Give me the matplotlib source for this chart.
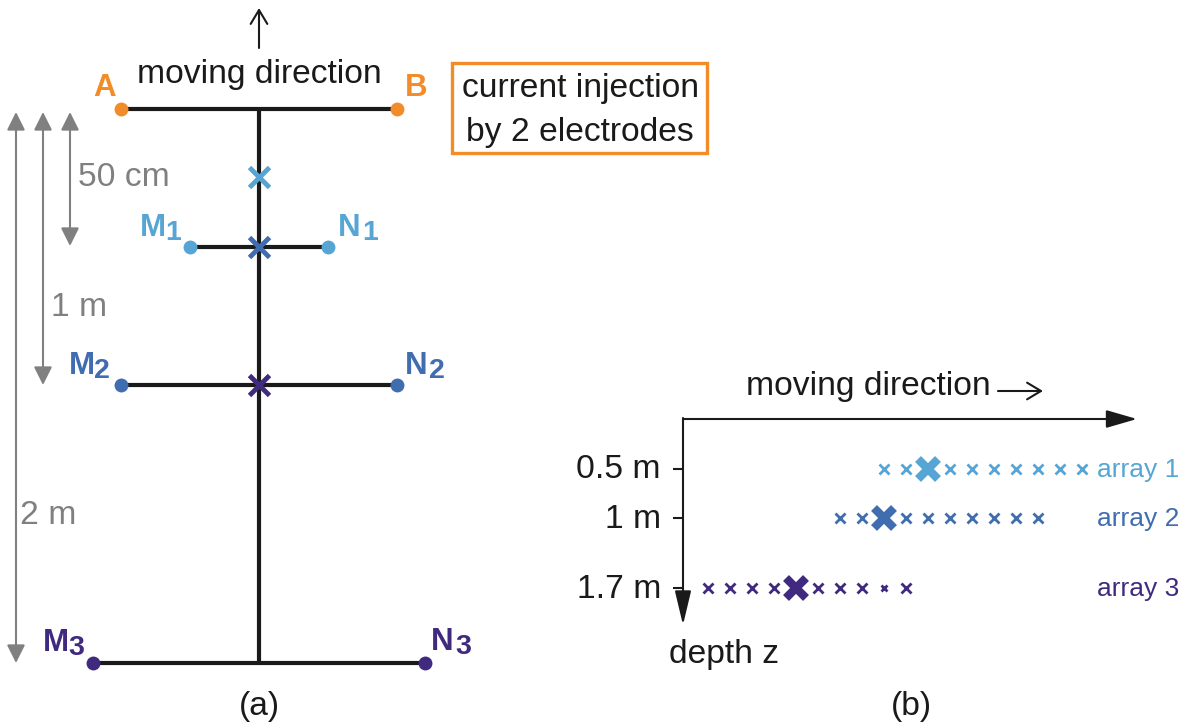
import matplotlib
matplotlib.use("Agg")
import matplotlib.pyplot as plt
from matplotlib.patches import Rectangle, FancyArrowPatch

plt.rcParams['font.family'] = ['Liberation Sans', 'DejaVu Sans']

ORANGE = '#F28C28'
LIGHT = '#56A5D5'
MID = '#3F6DB0'
DARK = '#3F2A80'
GREY = '#808080'
BLACK = '#1A1A1A'

# Panel (a): electrode bars
center_x = 259
bar_names = ['AB', 'M1N1', 'M2N2', 'M3N3']
bar_y = [109, 247, 385, 663]
bar_left = [121, 190, 121, 93]
bar_right = [397, 328, 397, 425]
bar_colors = [ORANGE, LIGHT, MID, DARK]

cross_y = [177, 247, 385]
cross_colors = [LIGHT, MID, DARK]

# Panel (a): dimension arrows
dim_x = [70, 43, 16]
dim_bottom = [246, 385, 663]
dim_top = 112
dim_labels = ['50 cm', '1 m', '2 m']
dim_label_pos = [(78, 177), (51, 307), (20, 516)]

# Panel (b): measurement positions for each array
array_names = ['array 1', 'array 2', 'array 3']
array_depth_labels = ['0.5 m', '1 m', '1.7 m']
array_y = [469, 518, 588]
array_colors = [LIGHT, MID, DARK]
array_x = [
    [884, 906, 950, 972, 994, 1016, 1038, 1060, 1082],
    [840, 862, 906, 928, 950, 972, 994, 1016, 1038],
    [708, 730, 752, 774, 818, 840, 862, 906],
]
array_small_x = [[], [], [884]]
array_big_x = [928, 884, 796]

fig = plt.figure(figsize=(11.92, 7.28), dpi=100)
ax = fig.add_axes([0, 0, 1, 1])
ax.set_xlim(0, 1192)
ax.set_ylim(728, 0)
ax.axis('off')

FS = 24.2
BFS = 22.5


def arrow(p0, p1, color, lw, style, ms=1, z=2):
    ax.add_patch(FancyArrowPatch(p0, p1, arrowstyle=style, color=color, lw=lw,
                                 mutation_scale=ms, shrinkA=0, shrinkB=0, zorder=z))


# Panel (a) skeleton
ax.plot([center_x, center_x], [bar_y[0], bar_y[-1]], color=BLACK, lw=3, solid_capstyle='butt', zorder=2)
for y, l, r, c in zip(bar_y, bar_left, bar_right, bar_colors):
    ax.plot([l, r], [y, y], color=BLACK, lw=3, solid_capstyle='butt', zorder=2)
    ax.plot([l, r], [y, y], ls='none', marker='o', ms=10, color=c, mew=0, zorder=3)
for y, c in zip(cross_y, cross_colors):
    ax.plot([center_x], [y], marker='x', ms=14, mew=3.5, color=c, ls='none', zorder=4)

# Electrode labels
ax.text(105, 88, 'A', color=ORANGE, fontsize=BFS, fontweight='bold', ha='center', va='center')
ax.text(416, 88, 'B', color=ORANGE, fontsize=BFS, fontweight='bold', ha='center', va='center')
elec_labels = [('M', '1', 153, 228, LIGHT), ('N', '1', 349, 228, LIGHT),
               ('M', '2', 82, 366, MID), ('N', '2', 416, 366, MID),
               ('M', '3', 56, 643, DARK), ('N', '3', 442, 642, DARK)]
for letter, sub, x, y, c in elec_labels:
    ax.text(x, y, letter, color=c, fontsize=BFS, fontweight='bold', ha='center', va='center')
    dx = 20 if letter == 'M' else 21
    ax.text(x + dx, y + 5, sub, color=c, fontsize=BFS - 2, fontweight='bold', ha='center', va='center')

# Top arrow and title
arrow((259, 48), (259, 8), BLACK, 1.5, '->,head_length=10,head_width=6')
ax.text(259, 74, 'moving direction', fontsize=FS, color=BLACK, ha='center', va='center')

# Current injection box
ax.add_patch(Rectangle((452, 63), 255, 90, fill=False, ec=ORANGE, lw=2.4, zorder=2))
ax.text(580, 89, 'current injection', fontsize=FS, color=BLACK, ha='center', va='center')
ax.text(580, 132, 'by 2 electrodes', fontsize=FS, color=BLACK, ha='center', va='center')

# Dimension arrows
for x, b in zip(dim_x, dim_bottom):
    arrow((x, dim_top + 12), (x, dim_top), GREY, 1.5, '-|>,head_length=11,head_width=5.5', z=1)
    arrow((x, dim_top + 10), (x, b), GREY, 1.5, '-|>,head_length=11,head_width=5.5', z=1)
for t, (x, y) in zip(dim_labels, dim_label_pos):
    ax.text(x, y, t, fontsize=FS, color=GREY, ha='left', va='center')

ax.text(259, 706, '(a)', fontsize=FS, color=BLACK, ha='center', va='center')

# Panel (b) axes
arrow((683, 419), (1137, 419), BLACK, 1.5, '-|>,head_length=19,head_width=5.5')
arrow((683, 418), (683, 625), BLACK, 1.5, '-|>,head_length=21,head_width=5')
ax.text(868, 387, 'moving direction', fontsize=FS, color=BLACK, ha='center', va='center')
arrow((998, 391), (1043, 391), BLACK, 1.5, '->,head_length=10,head_width=6')

for y, t in zip(array_y, array_depth_labels):
    ax.plot([673, 683], [y, y], color=BLACK, lw=1.5, solid_capstyle='butt')
    ax.text(661, y + 1, t, fontsize=FS, color=BLACK, ha='right', va='center')

for name, y, c, xs, small, big in zip(array_names, array_y, array_colors, array_x, array_small_x, array_big_x):
    ax.plot(xs, [y] * len(xs), ls='none', marker='x', ms=7, mew=2, color=c)
    if small:
        ax.plot(small, [y] * len(small), ls='none', marker='x', ms=5, mew=2, color=c)
    ax.plot([big], [y], ls='none', marker='x', ms=14, mew=6, color=c)
    ax.text(1097, y + 1, name, fontsize=19, color=c, ha='left', va='center')

ax.text(669, 655, 'depth z', fontsize=FS, color=BLACK, ha='left', va='center')
ax.text(911, 706, '(b)', fontsize=FS, color=BLACK, ha='center', va='center')

fig.savefig('out.png', dpi=100)
